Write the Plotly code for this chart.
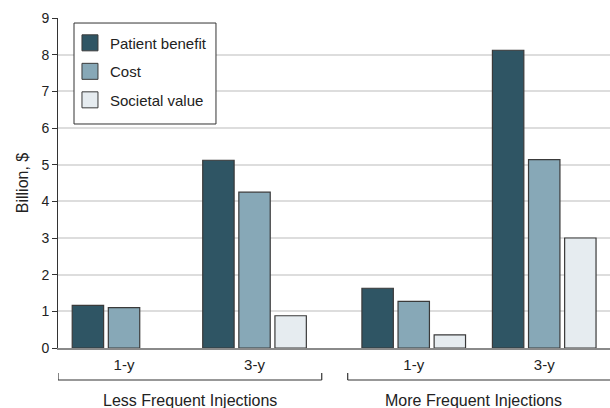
import plotly.graph_objects as go

# ---- data ----
groups = ["Less Frequent Injections", "More Frequent Injections"]
periods = ["1-y", "3-y"]
patient_benefit = [1.16, 5.12, 1.63, 8.12]
cost = [1.10, 4.25, 1.27, 5.14]
societal_value = [None, 0.88, 0.36, 3.00]
series_names = ["Patient benefit", "Cost", "Societal value"]
y_ticks = [0, 1, 2, 3, 4, 5, 6, 7, 8, 9]

# ---- styles ----
colors = ["#2f5564", "#87a8b7", "#e6ecf0"]
edge = "#3a3a3a"
FONT = "Liberation Sans, Arial, sans-serif"
GROUP_GAP = 0.22

# numeric x positions: one slot per period, extra gap between groups
xpos = []
xtext = []
for gi, g in enumerate(groups):
    for pi, p in enumerate(periods):
        xpos.append(gi * len(periods) + pi + gi * GROUP_GAP)
        xtext.append(p)

fig = go.Figure()
for name, vals, col in zip(series_names, [patient_benefit, cost, societal_value], colors):
    fig.add_trace(go.Bar(
        x=xpos, y=vals, name=name, showlegend=False,
        marker=dict(color=col, line=dict(color=edge, width=1.2)),
    ))
    # legend swatch
    fig.add_trace(go.Scatter(
        x=[None], y=[None], mode="markers", name=name, legendgroup=name,
        marker=dict(symbol="square", size=16, color=col, line=dict(color=edge, width=1)),
    ))

x_left, x_right = -0.506, 3.724

fig.update_layout(
    width=610, height=408,
    margin=dict(l=58, r=0, t=18, b=60),
    paper_bgcolor="white", plot_bgcolor="white",
    font=dict(family=FONT, size=14, color="#222"),
    barmode="group", bargap=0.17, bargroupgap=0.13,
    showlegend=True,
    legend=dict(
        x=0.0217, y=0.974, xanchor="left", yanchor="top",
        borderwidth=0, bgcolor="rgba(0,0,0,0)",
        font=dict(family=FONT, size=15, color="#222"),
        tracegroupgap=6, traceorder="grouped",
    ),
    xaxis=dict(
        range=[x_left, x_right], tickvals=xpos, ticktext=xtext,
        showgrid=False, zeroline=False, showline=True,
        linecolor="#8a8a8a", linewidth=1.5, ticks="",
        tickfont=dict(family=FONT, size=15, color="#222"),
        ticklabelstandoff=2,
        fixedrange=True,
    ),
    yaxis=dict(
        range=[0, 9], tickvals=y_ticks, showgrid=True,
        gridcolor="#dddddd", gridwidth=1.5, zeroline=False,
        showline=True, linecolor="#333", linewidth=1,
        ticks="outside", ticklen=5, tickcolor="#333", tickwidth=1,
        tickfont=dict(family=FONT, size=14, color="#222"),
        title=dict(text="Billion, $", font=dict(family=FONT, size=16, color="#222"), standoff=8),
        fixedrange=True,
    ),
)

# legend frame
fig.add_shape(type="rect", xref="paper", yref="paper", x0=0.029, x1=0.2862, y0=0.6788, y1=0.9848,
              fillcolor="white", line=dict(color="#333", width=1), layer="above")

# brackets under the groups
brackets = [(x_left, 1.515), (1.714, x_right + 0.5)]
yb, yt = -0.097, -0.076
for (a, b) in brackets:
    fig.add_shape(type="line", xref="x", yref="paper", x0=a, x1=b, y0=yb, y1=yb,
                  line=dict(color="#333", width=1.2))
    fig.add_shape(type="line", xref="x", yref="paper", x0=a, x1=a, y0=yb, y1=yt,
                  line=dict(color="#333", width=1.2))
    fig.add_shape(type="line", xref="x", yref="paper", x0=b, x1=b, y0=yb, y1=yt,
                  line=dict(color="#333", width=1.2))

label_x = [0.5045, 2.675]
for g, lx in zip(groups, label_x):
    fig.add_annotation(x=lx, y=-0.158, xref="x", yref="paper", text=g, showarrow=False,
                       xanchor="center", yanchor="middle",
                       font=dict(family=FONT, size=16, color="#222"))

fig.write_html("out.html", config={"displayModeBar": False},
               post_script="document.body.style.margin='0';")
